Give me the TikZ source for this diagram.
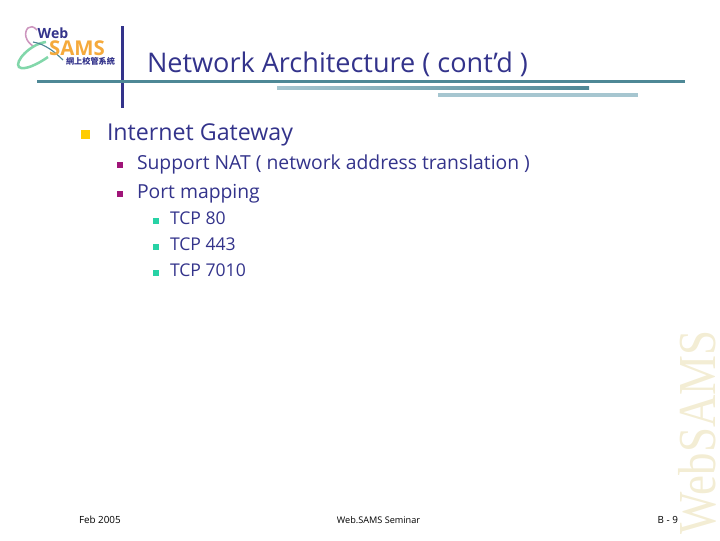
\documentclass[tikz,border=0pt]{standalone}
\usepackage{fontspec}
\setmainfont{Open Sans}
\newfontfamily\cjk{Noto Sans CJK TC}
\newfontfamily\wmfont[FakeStretch=0.84]{Liberation Serif}
\usetikzlibrary{positioning}
\definecolor{titleblue}{RGB}{51,51,139}
\definecolor{ruleteal}{RGB}{78,136,150}
\definecolor{rulelight}{RGB}{166,198,208}
\definecolor{bulletgold}{RGB}{255,204,0}
\definecolor{bulletplum}{RGB}{160,20,120}
\definecolor{bulletgreen}{RGB}{40,210,165}
\definecolor{wmtan}{RGB}{243,237,212}
\definecolor{logoorange}{RGB}{245,170,60}
\definecolor{logogreen}{RGB}{130,215,170}
\definecolor{logopink}{RGB}{205,150,190}
\tikzstyle{every node}=[inner sep=0pt,outer sep=0pt]
\tikzset{
  bodytext/.style={anchor=west,text=titleblue},
  level one/.style={bodytext,font=\fontsize{16.5}{18}\selectfont},
  level two/.style={bodytext,font=\fontsize{13.75}{16}\selectfont},
  level three/.style={bodytext,font=\fontsize{12.5}{14}\selectfont},
  bullet one/.style={fill=bulletgold,minimum size=0.225cm},
  bullet two/.style={fill=bulletplum,minimum size=0.15cm},
  bullet three/.style={fill=bulletgreen,minimum size=0.15cm},
  footer/.style={font=\fontsize{7}{8}\selectfont,text=black},
}
\begin{document}
\begin{tikzpicture}[x=0.025cm,y=-0.025cm]
\useasboundingbox (0,0) rectangle (720,540);

% watermark
\node [rotate=90,anchor=base west,text=wmtan,font=\wmfont\fontsize{38}{40}\selectfont] (wmark) at (715,534) {WebSAMS};

% logo
\draw [line width=1.1pt,color=logopink] (37,30) .. controls (30,22) and (24,30) .. (26,37) .. controls (27,41) and (30,44) .. (33,46);
\draw [line width=1.8pt,color=logogreen] (46,42) .. controls (30,44) and (14,62) .. (19,67) .. controls (24,71) and (38,64) .. (48,57);
\draw [line width=0.8pt,color=ruleteal] (33,42) .. controls (45,44) and (55,52) .. (63,60);
\node [text=titleblue,font=\bfseries\fontsize{10}{10}\selectfont] (logoweb) at (53,33) {Web};
\node [text=logoorange,font=\bfseries\fontsize{14.5}{14}\selectfont] (logosams) at (77,48.5) {SAMS};
\node [text=titleblue,font=\cjk\bfseries\fontsize{5.8}{6}\selectfont] (logocjk) at (90.5,61) {網上校管系統};

% rules
\draw [line width=1.8pt,color=titleblue] (122.5,26) -- (122.5,108);
\draw [line width=2.2pt,color=ruleteal] (37,81.5) -- (685,81.5);
\shade [left color=rulelight,right color=ruleteal] (277,86) rectangle (589,89);
\draw [line width=2.8pt,color=rulelight] (438,95) -- (638,95);

% title
\node [bodytext,font=\fontsize{19.25}{24}\selectfont] (title) at (147,64) {Network Architecture ( cont’d )};

% bullets
\node [level one] (gateway) at (107,135) {Internet Gateway};
\node [bullet one] (bgateway) at (85.5,134.5) {};
\node [level two] (nat) at (137,164) {Support NAT ( network address translation )};
\node [bullet two] (bnat) at (120,165) {};
\node [level two] (portmap) at (137,194) {Port mapping};
\node [bullet two] (bportmap) at (120,194) {};
\node [level three] (tcpa) at (170,218) {TCP 80};
\node [bullet three] (btcpa) at (156,221) {};
\node [level three] (tcpb) at (170,244) {TCP 443};
\node [bullet three] (btcpb) at (156,247) {};
\node [level three] (tcpc) at (170,270) {TCP 7010};
\node [bullet three] (btcpc) at (156,273) {};

% footer
\node [footer,anchor=west] (fdate) at (79,520) {Feb 2005};
\node [footer,font=\fontsize{6.5}{8}\selectfont] (fname) at (378.5,520) {Web.SAMS Seminar};
\node [footer,anchor=east] (fpage) at (678,520) {B - 9};
\end{tikzpicture}
\end{document}
